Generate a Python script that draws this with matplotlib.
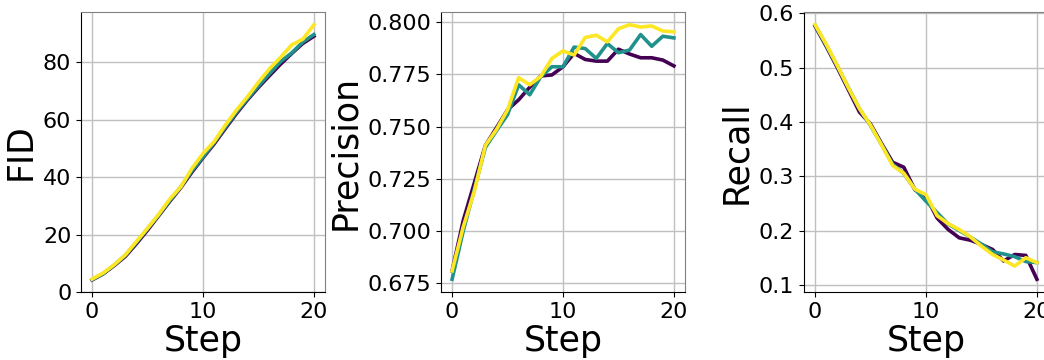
import matplotlib
matplotlib.use("Agg")
import matplotlib.pyplot as plt

# --- Data ---
steps = list(range(21))

fid_a = [4.2, 6.3, 9.2, 12.4, 16.8, 21.5, 26.5, 31.5, 36.3, 41.7, 46.7,
         51.5, 56.8, 62.0, 66.8, 71.2, 75.3, 79.3, 83.0, 86.5, 89.0]
fid_b = [4.3, 6.4, 9.4, 12.8, 17.3, 22.0, 26.8, 31.8, 36.6, 42.2, 47.0,
         52.0, 57.3, 62.5, 67.2, 71.7, 76.0, 80.2, 83.2, 87.0, 89.6]
fid_c = [4.5, 6.6, 9.5, 12.9, 17.6, 22.2, 27.0, 32.3, 36.6, 43.0, 48.2,
         52.3, 58.0, 63.2, 67.9, 73.0, 77.7, 81.7, 86.0, 88.0, 93.0]

prec_a = [0.681, 0.705, 0.723, 0.741, 0.7494, 0.758, 0.7628, 0.7688, 0.7742, 0.7747, 0.7786,
          0.785, 0.7821, 0.7813, 0.7813, 0.787, 0.7847, 0.7829, 0.7829, 0.7818, 0.779]
prec_b = [0.677, 0.700, 0.720, 0.740, 0.748, 0.7557, 0.770, 0.7652, 0.7739, 0.7786, 0.7786,
          0.788, 0.7873, 0.7826, 0.7897, 0.7853, 0.7866, 0.794, 0.7884, 0.7932, 0.7924]
prec_c = [0.681, 0.702, 0.719, 0.741, 0.7486, 0.758, 0.7734, 0.770, 0.774, 0.7826, 0.7862,
          0.7842, 0.7926, 0.7937, 0.7905, 0.7968, 0.7987, 0.7976, 0.7981, 0.7957, 0.7953]

rec_a = [0.576, 0.539, 0.500, 0.459, 0.418, 0.396, 0.360, 0.3256, 0.3165, 0.275, 0.263,
         0.223, 0.202, 0.1866, 0.1823, 0.1744, 0.1653, 0.144, 0.156, 0.1543, 0.1104]
rec_b = [0.578, 0.541, 0.503, 0.463, 0.424, 0.393, 0.358, 0.322, 0.305, 0.276, 0.254,
         0.233, 0.212, 0.200, 0.188, 0.175, 0.161, 0.157, 0.152, 0.143, 0.141]
rec_c = [0.5787, 0.543, 0.5037, 0.4628, 0.4244, 0.394, 0.3573, 0.3195, 0.3055, 0.2762, 0.2659,
         0.2274, 0.2128, 0.2018, 0.1884, 0.1713, 0.156, 0.1457, 0.1348, 0.150, 0.141]

colors = ['#440154', '#21918c', '#fde725']

panels = [
    ('FID', [fid_a, fid_b, fid_c]),
    ('Precision', [prec_a, prec_b, prec_c]),
    ('Recall', [rec_a, rec_b, rec_c]),
]

W, H = 1044, 360
fig = plt.figure(figsize=(W / 100, H / 100), dpi=100)
fig.patch.set_facecolor('white')

lefts = [81, 441, 804]
for (name, series), left in zip(panels, lefts):
    ax = fig.add_axes([left / W, (H - 292) / H, 244 / W, 280 / H])
    for s, c in zip(series, colors):
        ax.plot(steps, s, color=c, linewidth=2.6)
    if name == 'FID':
        ax.set_ylim(bottom=0)
    ax.grid(True, color='#c0c0c0', linewidth=1.0)
    ax.set_axisbelow(True)
    ax.set_xlabel('Step', fontsize=25, labelpad=2)
    ax.set_ylabel(name, fontsize=25)
    ax.tick_params(labelsize=16)
    for side in ['top', 'right']:
        ax.spines[side].set_color('#808080')
    ax.set_xticks([0, 10, 20])

fig.savefig('out.png', dpi=100)
